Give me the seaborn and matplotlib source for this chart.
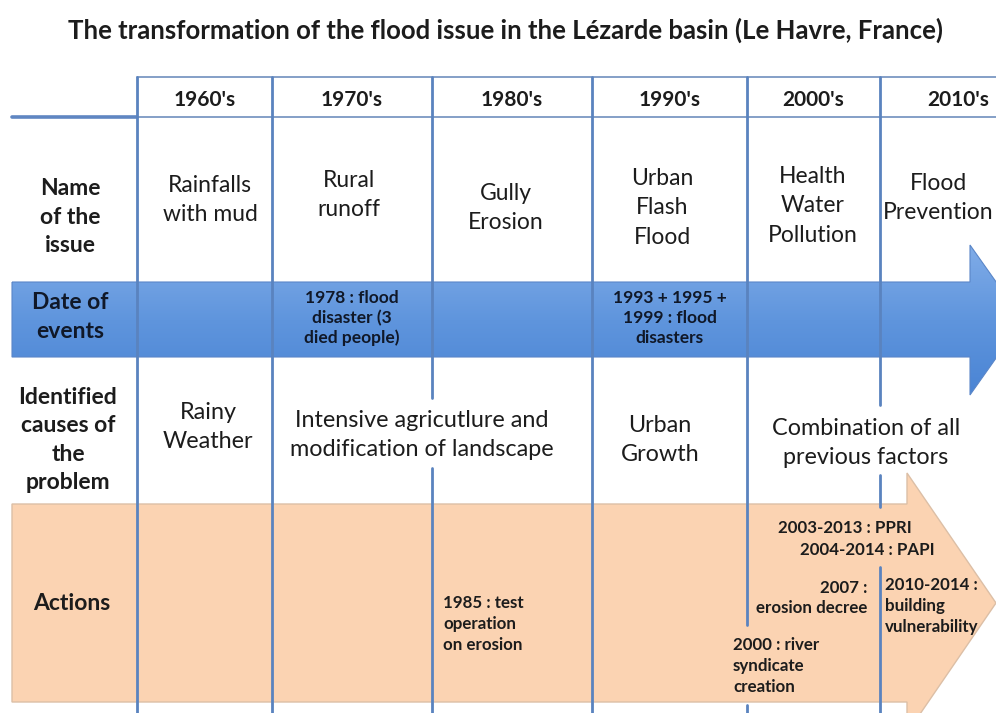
import numpy as np
import matplotlib.pyplot as plt
import seaborn as sns
from matplotlib.patches import Polygon

# Contenu du tableau
title = "The transformation of the flood issue in the Lézarde basin (Le Havre, France)"
decades = ["1960's", "1970's", "1980's", "1990's", "2000's", "2010's"]
row_labels = ["Name\nof the\nissue", "Date of\nevents",
              "Identified\ncauses of\nthe\nproblem", "Actions"]
issue_names = ["Rainfalls\nwith mud", "Rural\nrunoff", "Gully\nErosion",
               "Urban\nFlash\nFlood", "Health\nWater\nPollution", "Flood\nPrevention"]
events = ["", "1978 : flood\ndisaster (3\ndied people)", "",
          "1993 + 1995 +\n1999 : flood\ndisasters", "", ""]
causes = ["Rainy\nWeather", "Intensive agricutlure and\nmodification of landscape",
          "Urban\nGrowth", "Combination of all\nprevious factors"]
actions = ["1985 : test\noperation\non erosion", "2003-2013 : PPRI", "2004-2014 : PAPI",
           "2007 :\nerosion decree", "2010-2014 :\nbuilding\nvulnerability",
           "2000 : river\nsyndicate\ncreation"]

# Mise en page (pixels du canevas 996x713)
W, H = 996, 713
col_edges = [137, 272, 432, 592, 747, 880, 1036]
label_pos = [(70, 217), (70, 317), (68, 440), (72, 604)]
issue_pos = [(210, 200), (349, 195), (506, 208), (662, 208), (813, 206), (938, 198)]
cause_pos = [(208, 427), (422, 435), (660, 440), (866, 443)]
action_pos = [(443, 624, "left"), (778, 528, "left"), (800, 550, "left"),
              (867, 598, "right"), (885, 606, "left"), (733, 666, "left")]
line_gaps = {432: [(398, 468)], 747: [(625, 705)], 880: [(405, 475), (507, 567)]}

sns.set_theme(style="white")
plt.rcParams["font.family"] = ["Lato", "DejaVu Sans"]

fig = plt.figure(figsize=(9.96, 7.13), dpi=100)
ax = fig.add_axes([0, 0, 1, 1])
ax.set_xlim(0, W)
ax.set_ylim(H, 0)
ax.axis("off")

ink = "#1c1c1c"
line_col = "#5a83bf"

# === Flèche orange (actions) ===
orange = Polygon([(12, 504), (907, 504), (907, 473), (996, 603), (907, 733),
                  (907, 702), (12, 702)], closed=True,
                 facecolor="#fbd3b2", edgecolor="#dcbfa6", lw=1, zorder=1)
ax.add_patch(orange)

# === Flèche bleue (dates) avec dégradé ===
blue = Polygon([(12, 282), (970, 282), (970, 245), (1023, 320), (970, 395),
                (970, 357), (12, 357)], closed=True,
               facecolor="none", edgecolor="#5a86c8", lw=0.8, zorder=2)
ax.add_patch(blue)
grad = np.linspace(0, 1, 256).reshape(-1, 1)
cmap = sns.blend_palette(["#80ace8", "#5f95dd", "#4a84d4"], as_cmap=True)
im = ax.imshow(grad, extent=(12, 1030, 395, 245), cmap=cmap, aspect="auto", zorder=1.5)
im.set_clip_path(blue)

# === Lignes du tableau ===
ax.plot([137, W], [77, 77], color="#6f8fbd", lw=1.2, zorder=3)
ax.plot([137, W], [117, 117], color="#6f8fbd", lw=1.2, zorder=3)
ax.plot([12, 137], [117, 117], color="#5f86c2", lw=2.6, zorder=3)
for x in col_edges[:-1]:
    y0 = 77
    for g0, g1 in line_gaps.get(x, []) + [(H, H)]:
        ax.plot([x, x], [y0, g0], color=line_col, lw=2.0, zorder=3)
        y0 = g1

# === Textes ===
ax.text(505, 30, title, ha="center", va="center", fontsize=18.5,
        fontweight="bold", color=ink)
for i, d in enumerate(decades):
    xc = (col_edges[i] + col_edges[i + 1]) / 2
    ax.text(xc, 100, d, ha="center", va="center", fontsize=15,
            fontweight="bold", color=ink, zorder=4)
for lab, (x, y) in zip(row_labels, label_pos):
    ax.text(x, y, lab, ha="center", va="center", fontsize=16.5,
            fontweight="bold", color="#101828" if "Date" in lab else ink,
            linespacing=1.42, zorder=4)
for txt, (x, y) in zip(issue_names, issue_pos):
    ax.text(x, y, txt, ha="center", va="center", fontsize=16.5,
            color=ink, linespacing=1.52, zorder=4)
for i, ev in enumerate(events):
    if ev:
        xc = (col_edges[i] + col_edges[i + 1]) / 2
        ax.text(xc, 318, ev, ha="center", va="center", fontsize=12.5,
                fontweight="bold", color="#101828", linespacing=1.3, zorder=4)
for txt, (x, y) in zip(causes, cause_pos):
    ax.text(x, y, txt, ha="center", va="center", fontsize=16.8,
            color=ink, linespacing=1.45, zorder=4)
for txt, (x, y, al) in zip(actions, action_pos):
    ax.text(x, y, txt, ha=al, va="center", multialignment=al, fontsize=12.2,
            fontweight="bold", color=ink, linespacing=1.38, zorder=4)

fig.savefig("out.png", dpi=100)
plt.close(fig)
